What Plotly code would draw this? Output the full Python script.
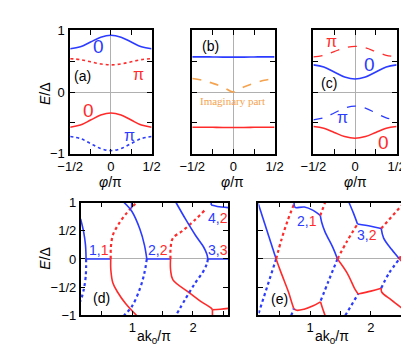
import plotly.graph_objects as go

BLUE = "#2b3bff"
RED = "#ff2b2b"
ORANGE = "#f5a34f"
GREY = "#b0b0b0"

# ---------- panels (a)-(c): E/Delta vs phi/pi ----------
phi = [-0.5, -0.375, -0.25, -0.125, 0, 0.125, 0.25, 0.375, 0.5]
a_zero_up = [0.70, 0.732, 0.81, 0.888, 0.92, 0.888, 0.81, 0.732, 0.70]
a_pi_up = [0.54, 0.525, 0.49, 0.455, 0.44, 0.455, 0.49, 0.525, 0.54]
a_zero_dn = [-0.57, -0.536, -0.455, -0.374, -0.34, -0.374, -0.455, -0.536, -0.57]
a_pi_dn = [-0.72, -0.754, -0.835, -0.916, -0.95, -0.916, -0.835, -0.754, -0.72]

b_up = [0.57, 0.57, 0.568, 0.566, 0.565, 0.566, 0.568, 0.57, 0.57]
b_dn = [-0.57, -0.57, -0.572, -0.574, -0.575, -0.574, -0.572, -0.57, -0.57]
b_imag = [0.22, 0.19, 0.14, 0.08, 0.0, 0.08, 0.14, 0.19, 0.22]

c_pi_up = [0.57, 0.595, 0.655, 0.715, 0.74, 0.715, 0.655, 0.595, 0.57]
c_zero_up = [0.44, 0.406, 0.325, 0.244, 0.21, 0.244, 0.325, 0.406, 0.44]
c_pi_dn = [-0.45, -0.418, -0.34, -0.262, -0.23, -0.262, -0.34, -0.418, -0.45]
c_zero_dn = [-0.56, -0.588, -0.655, -0.722, -0.75, -0.722, -0.655, -0.588, -0.56]

# ---------- panel (d): E/Delta vs a k0/pi ----------
d_b1_x = [0.15, 0.20, 0.23, 0.24]
d_b1_e = [0.71, 0.48, 0.25, 0.0]
d_b1d_x = [0.24, 0.235, 0.20, 0.15]
d_b1d_e = [0.0, -0.30, -0.55, -0.75]
d_h1_x = [0.24, 0.646]
d_r1_x = [0.646, 0.648, 0.68, 0.76, 0.89, 1.07]
d_r1_e = [0.0, -0.20, -0.42, -0.59, -0.79, -1.0]
d_r1d_x = [0.646, 0.648, 0.68, 0.76, 0.89, 1.07]
d_r1d_e = [0.0, 0.20, 0.42, 0.59, 0.79, 1.0]
d_b2_x = [0.865, 0.995, 1.125, 1.20, 1.24]
d_b2_e = [1.0, 0.84, 0.53, 0.25, 0.0]
d_b2d_x = [1.24, 1.20, 1.125, 0.995, 0.865]
d_b2d_e = [0.0, -0.25, -0.53, -0.84, -1.0]
d_h2_x = [1.24, 1.63]
d_r2_x = [1.63, 1.632, 1.67, 1.93, 2.14, 2.30, 2.32]
d_r2_e = [0.0, -0.20, -0.37, -0.59, -0.76, -0.87, -0.90]
d_r2t_x = [2.32, 2.45, 2.58]
d_r2t_e = [-0.90, -0.89, -0.875]
d_r2d_x = [1.63, 1.632, 1.67, 1.83, 2.04, 2.19]
d_r2d_e = [0.0, 0.20, 0.37, 0.50, 0.70, 0.86]
d_b3_x = [1.72, 1.88, 2.04, 2.17, 2.23, 2.245]
d_b3_e = [1.0, 0.70, 0.42, 0.22, 0.08, 0.0]
d_b3d_x = [2.245, 2.23, 2.17, 2.04, 1.88, 1.72]
d_b3d_e = [0.0, -0.08, -0.22, -0.42, -0.70, -1.0]
d_h3_x = [2.245, 2.58]
d_b4_x = [2.30, 2.40, 2.58]
d_b4_e = [0.955, 0.93, 0.91]

# ---------- panel (e) ----------
e_b1_x = [0.14, 0.44]
e_b1_e = [1.0, 0.0]
e_b1d_x = [0.44, 0.15]
e_b1d_e = [0.0, -0.97]
e_r1_x = [0.44, 0.50, 0.567, 0.645, 0.70, 0.73]
e_r1_e = [0.0, -0.18, -0.37, -0.59, -0.78, -0.88]
e_r1t_x = [0.73, 0.78, 0.90, 1.05, 1.17]
e_r1t_e = [-0.88, -0.91, -0.89, -0.83, -0.76]
e_r1b_x = [1.17, 1.20, 1.245]
e_r1b_e = [-0.76, -0.86, -1.0]
e_r1d_x = [0.44, 0.53, 0.63, 0.73]
e_r1d_e = [0.0, 0.35, 0.68, 0.96]
e_b2_x = [0.74, 0.76, 0.906, 1.05, 1.167]
e_b2_e = [0.93, 0.91, 0.92, 0.86, 0.77]
e_b2s_x = [1.167, 1.19, 1.245, 1.375, 1.45]
e_b2s_e = [0.77, 0.65, 0.48, 0.20, 0.0]
e_r2d_x = [1.167, 1.245]
e_r2d_e = [0.77, 1.0]
e_b2d_x = [1.45, 1.30, 1.17]
e_b2d_e = [0.0, -0.40, -0.75]
e_b1e_x = [0.69, 0.73]
e_b1e_e = [-1.0, -0.88]
e_r3_x = [1.45, 1.61, 1.74, 1.79]
e_r3_e = [0.0, -0.25, -0.54, -0.62]
e_r3t_x = [1.79, 2.0, 2.17]
e_r3t_e = [-0.62, -0.57, -0.52]
e_r3b_x = [2.17, 2.18, 2.34, 2.58]
e_r3b_e = [-0.52, -0.59, -0.73, -0.93]
e_r3d_x = [1.45, 1.60, 1.78]
e_r3d_e = [0.0, 0.30, 0.62]
e_b3_x = [1.64, 1.71, 1.78]
e_b3_e = [1.0, 0.82, 0.62]
e_b3t_x = [1.78, 2.0, 2.17]
e_b3t_e = [0.62, 0.58, 0.54]
e_b3s_x = [2.17, 2.21, 2.34, 2.47]
e_b3s_e = [0.54, 0.37, 0.17, 0.0]
e_r4d_x = [2.17, 2.55]
e_r4d_e = [0.54, 1.0]
e_b3e_x = [1.58, 1.79]
e_b3e_e = [-1.0, -0.62]
e_b3d_x = [2.17, 2.30, 2.47]
e_b3d_e = [-0.52, -0.25, 0.0]
e_r5_x = [2.47, 2.58]
e_r5_e = [0.0, -0.12]
e_r5d_x = [2.47, 2.58]
e_r5d_e = [0.0, 0.25]
e_b5_x = [2.53, 2.58]
e_b5_e = [1.0, 0.93]

fig = go.Figure()


def add(x, y, color, dash="solid", axis=1, width=1.6, shape="spline"):
    suffix = "" if axis == 1 else str(axis)
    fig.add_trace(go.Scatter(
        x=x, y=y, mode="lines", line=dict(color=color, width=width, dash=dash, shape=shape),
        xaxis="x" + suffix, yaxis="y" + suffix, showlegend=False, hoverinfo="skip"))


# panel a
add(phi, a_zero_up, BLUE, axis=1)
add(phi, a_pi_up, RED, "dot", axis=1)
add(phi, a_zero_dn, RED, axis=1)
add(phi, a_pi_dn, BLUE, "dot", axis=1)
# panel b
add(phi, b_up, BLUE, axis=2)
add(phi, b_dn, RED, axis=2)
add(phi, b_imag, ORANGE, "dash", axis=2)
# panel c
add(phi, c_pi_up, RED, "dash", axis=3, width=1.3)
add(phi, c_zero_up, BLUE, axis=3)
add(phi, c_pi_dn, BLUE, "dash", axis=3, width=1.3)
add(phi, c_zero_dn, RED, axis=3)

# panel d
DW = 2.2
add(d_b1_x, d_b1_e, BLUE, axis=4)
add(d_b1d_x, d_b1d_e, BLUE, "dot", axis=4, width=DW)
add(d_h1_x, [0, 0], BLUE, axis=4, shape="linear")
add(d_r1_x, d_r1_e, RED, axis=4)
add(d_r1d_x, d_r1d_e, RED, "dot", axis=4, width=DW)
add(d_b2_x, d_b2_e, BLUE, axis=4)
add(d_b2d_x, d_b2d_e, BLUE, "dot", axis=4, width=DW)
add(d_h2_x, [0, 0], BLUE, axis=4, shape="linear")
add(d_r2_x, d_r2_e, RED, axis=4)
add(d_r2t_x, d_r2t_e, RED, axis=4)
add([2.32, 2.32], [-0.90, -1.0], RED, axis=4, shape="linear")
add(d_r2d_x, d_r2d_e, RED, "dot", axis=4, width=DW)
add(d_b3_x, d_b3_e, BLUE, axis=4)
add(d_b3d_x, d_b3d_e, BLUE, "dot", axis=4, width=DW)
add(d_h3_x, [0, 0], BLUE, axis=4, shape="linear")
add(d_b4_x, d_b4_e, BLUE, axis=4)
add([2.30, 2.30], [1.0, 0.955], BLUE, axis=4, shape="linear")
add([0.99, 0.99], [1.0, 0.9], BLUE, axis=4, shape="linear")

# panel e
add(e_b1_x, e_b1_e, BLUE, axis=5, shape="linear")
add(e_b1d_x, e_b1d_e, BLUE, "dot", axis=5, width=DW, shape="linear")
add(e_r1_x, e_r1_e, RED, axis=5)
add(e_r1t_x, e_r1t_e, RED, axis=5)
add(e_r1b_x, e_r1b_e, RED, axis=5)
add(e_r1d_x, e_r1d_e, RED, "dot", axis=5, width=DW)
add([0.735, 0.74], [1.0, 0.93], BLUE, axis=5, shape="linear")
add(e_b2_x, e_b2_e, BLUE, axis=5)
add(e_b2s_x, e_b2s_e, BLUE, axis=5)
add(e_r2d_x, e_r2d_e, RED, "dot", axis=5, width=DW, shape="linear")
add(e_b2d_x, e_b2d_e, BLUE, "dot", axis=5, width=DW)
add(e_b1e_x, e_b1e_e, BLUE, "dot", axis=5, width=DW, shape="linear")
add(e_r3_x, e_r3_e, RED, axis=5)
add(e_r3t_x, e_r3t_e, RED, axis=5)
add(e_r3b_x, e_r3b_e, RED, axis=5)
add(e_r3d_x, e_r3d_e, RED, "dot", axis=5, width=DW)
add(e_b3_x, e_b3_e, BLUE, axis=5)
add(e_b3t_x, e_b3t_e, BLUE, axis=5)
add(e_b3s_x, e_b3s_e, BLUE, axis=5)
add(e_r4d_x, e_r4d_e, RED, "dot", axis=5, width=DW, shape="linear")
add(e_b3e_x, e_b3e_e, BLUE, "dot", axis=5, width=DW, shape="linear")
add(e_b3d_x, e_b3d_e, BLUE, "dot", axis=5, width=DW)
add(e_r5_x, e_r5_e, RED, axis=5, shape="linear")
add(e_r5d_x, e_r5d_e, RED, "dot", axis=5, width=DW, shape="linear")
add(e_b5_x, e_b5_e, BLUE, axis=5, shape="linear")

W, H = 409, 346


def dx(a, b):
    return [a / W, b / W]


def dy(top, bottom):
    return [1 - bottom / H, 1 - top / H]


FONT = "Liberation Sans, Arial, sans-serif"
axis_common = dict(showline=True, linecolor="black", linewidth=1.5, mirror="ticks",
                   ticks="inside", ticklen=5, tickwidth=1, tickcolor="black",
                   showgrid=False, zeroline=True, zerolinecolor=GREY, zerolinewidth=1,
                   tickfont=dict(family=FONT, size=13, color="black"))

phi_ticks = [-0.5, -0.25, 0, 0.25, 0.5]
phi_text = ["\u22121/2", "", "0", "", "1/2"]
e_ticks = [-1, -0.5, 0, 0.5, 1]
e_text_a = ["\u22121", "", "0", "", "1"]
e_text_d = ["\u22121", "\u22121/2", "0", "1/2", "1"]
k_ticks = [0.5, 1, 1.5, 2, 2.5]
k_text = ["", "1", "", "2", ""]

top_row = dy(16, 145)
bot_row = dy(196, 314)
layout = dict(width=W, height=H, margin=dict(l=0, r=0, t=0, b=0),
              paper_bgcolor="white", plot_bgcolor="white", showlegend=False)

xdom = [dx(52, 138), dx(181, 268), dx(309, 397), dx(63, 219), dx(251, 407)]
for i in range(5):
    s = "" if i == 0 else str(i + 1)
    if i < 3:
        xa = dict(axis_common, domain=xdom[i], range=[-0.5, 0.5], tickvals=phi_ticks,
                  ticktext=phi_text, anchor="y" + s, ticklabelstandoff=0)
        ya = dict(axis_common, domain=top_row, range=[-1, 1], tickvals=e_ticks,
                  ticktext=e_text_a if i == 0 else [" "] * 5, anchor="x" + s,
                  ticklabelstandoff=1)
    else:
        xa = dict(axis_common, domain=xdom[i], range=[0.15, 2.58], tickvals=k_ticks,
                  ticktext=k_text, anchor="y" + s, zeroline=False, ticklabelstandoff=-1)
        ya = dict(axis_common, domain=bot_row, range=[-1, 1], tickvals=e_ticks,
                  ticktext=e_text_d if i == 3 else [" "] * 5, anchor="x" + s)
    layout["xaxis" + s] = xa
    layout["yaxis" + s] = ya

fig.update_layout(**layout)


def note(text, x, y, size=14, color="black", angle=0, family=FONT):
    fig.add_annotation(text=text, x=x, y=y, xref="paper", yref="paper",
                       showarrow=False, font=dict(family=family, size=size, color=color),
                       textangle=angle, xanchor="center", yanchor="middle")


def px(xp, yp):
    return xp / W, 1 - yp / H


# axis titles
for (xp, yp) in [(95, 175), (224, 175), (353, 175)]:
    x, y = px(xp, yp)
    note("<i>\u03c6</i>/\u03c0", x, y, size=14)
for (xp, yp) in [(141, 337), (329, 337)]:
    x, y = px(xp, yp)
    note("ak<sub>0</sub>/\u03c0", x, y, size=14)
for (xp, yp) in [(26, 82), (25, 254)]:
    x, y = px(xp, yp)
    note("<i>E</i>/\u0394", x, y, size=14, angle=-90)

# in-panel labels
for (t, xp, yp, c, s) in [("0", 82, 33, BLUE, 19), ("\u03c0", 124, 62, RED, 16), ("(a)", 65, 64, "black", 14),
                          ("0", 71, 100, RED, 19), ("\u03c0", 115, 126, BLUE, 16),
                          ("(b)", 200, 32, "black", 14),
                          ("\u03c0", 328, 28, RED, 16), ("0", 368, 52, BLUE, 19), ("(c)", 325, 71, "black", 14),
                          ("\u03c0", 340, 107, BLUE, 16), ("0", 383, 133, RED, 19),
                          ("(d)", 85, 296, "black", 14), ("(e)", 273, 297, "black", 14)]:
    x, y = px(xp, yp)
    note(t, x, y, size=s, color=c)

x, y = px(224, 90)
note("Imaginary part", x, y, size=11, color=ORANGE, family="Liberation Serif, Times New Roman, serif")


def pair(a, b):
    return "<span style='color:%s'>%s,</span><span style='color:%s'>%s</span>" % (BLUE, a, RED, b)


for (a, b, xp, yp) in [("1", "1", 82, 246), ("2", "2", 145, 246), ("3", "3", 208, 246),
                       ("4", "2", 208, 212), ("2", "1", 302, 215), ("3", "2", 366, 230)]:
    x, y = px(xp, yp)
    note(pair(a, b), x, y, size=14)

fig.write_html("out.html")
